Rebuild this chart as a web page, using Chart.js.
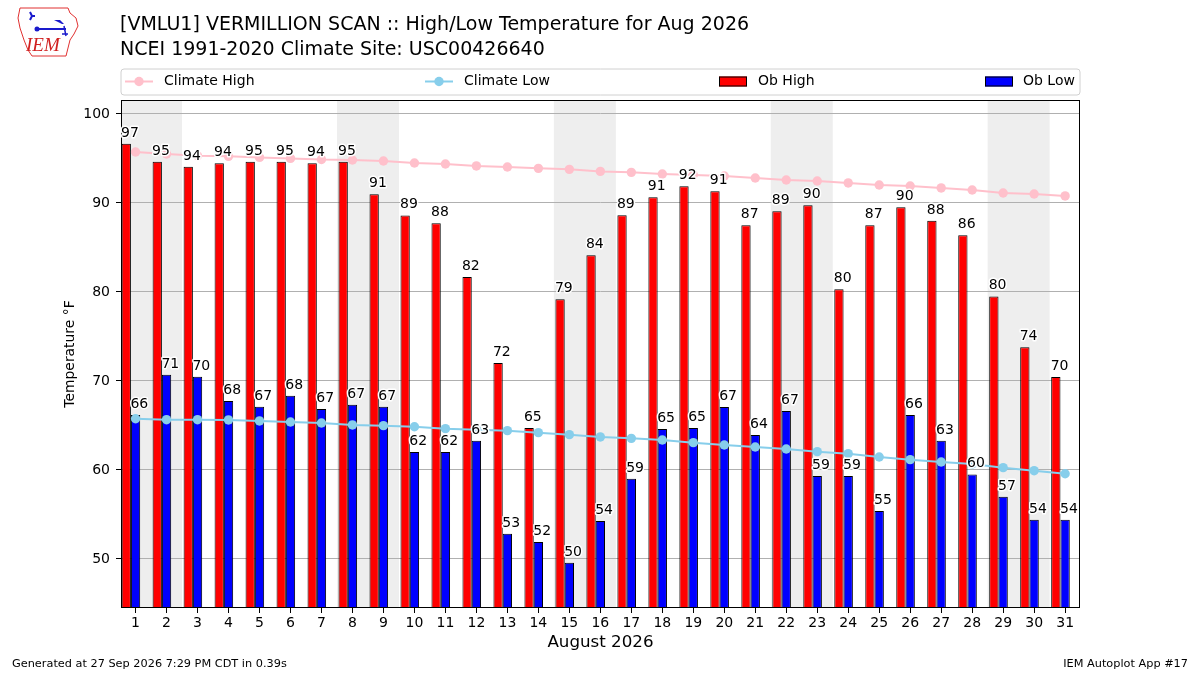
<!DOCTYPE html>
<html><head><meta charset="utf-8">
<script src="https://cdn.jsdelivr.net/npm/chart.js@4.4.0/dist/chart.umd.min.js"></script>
<style>
html,body{margin:0;padding:0;background:#fff;}
#wrap{position:relative;width:1200px;height:675px;overflow:hidden;font-family:"DejaVu Sans",sans-serif;color:#000;}
#c{position:absolute;left:0;top:0;}
#title{position:absolute;left:120px;top:11px;font-size:19px;line-height:25px;white-space:nowrap;}
#gen{position:absolute;left:12px;top:657px;font-size:11.3px;white-space:nowrap;}
#app{position:absolute;right:12px;top:657px;font-size:11.3px;white-space:nowrap;}
#logo{position:absolute;left:10px;top:4px;}
</style></head>
<body><div id="wrap">
<canvas id="c" width="1200" height="675"></canvas>
<svg id="logo" width="72" height="56" viewBox="0 0 72 56">
  <path d="M10 4 L58 4 L60 9 L66 14 L68 22 L64 30 L60 36 L58 44 L56 52 L22 52 L18 46 L14 36 L10 24 L8 14 Z" fill="none" stroke="#e03030" stroke-width="1"/>
  <path d="M20 8 L22 12 L20 16 M22 12 L25 12" stroke="#1a1acc" stroke-width="2" fill="none"/>
  <circle cx="27" cy="25" r="2.5" fill="#1a1acc"/>
  <line x1="27" y1="25" x2="56" y2="25" stroke="#1a1acc" stroke-width="2"/>
  <path d="M44 16 L52 20 L54 20 L50 16 Z" fill="#1a1acc"/>
  <path d="M54 22 L56 32 M52 30 L58 30" stroke="#1a1acc" stroke-width="1.5"/>
  <text x="16" y="47" font-family="'Liberation Serif',serif" font-style="italic" font-size="19" fill="#d02020">IEM</text>
</svg>
<div id="title">[VMLU1] VERMILLION SCAN :: High/Low Temperature for Aug 2026<br>NCEI 1991-2020 Climate Site: USC00426640</div>
<div id="gen">Generated at 27 Sep 2026 7:29 PM CDT in 0.39s</div>
<div id="app">IEM Autoplot App #17</div>
</div>
<script>
// ---- data ----
const days = [1,2,3,4,5,6,7,8,9,10,11,12,13,14,15,16,17,18,19,20,21,22,23,24,25,26,27,28,29,30,31];
const obHigh = [96.66,94.64,94.08,94.45,94.62,94.62,94.45,94.62,90.98,88.60,87.72,81.69,72.03,64.72,79.18,84.12,88.62,90.64,91.88,91.31,87.49,89.07,89.74,80.31,87.49,89.52,88.00,86.37,79.50,73.79,70.45];
const obLow = [66.18,70.71,70.48,67.75,67.11,68.35,66.85,67.34,67.11,62.02,62.02,63.29,52.84,51.91,49.58,54.27,59.02,64.60,64.72,67.08,63.93,66.63,59.33,59.33,55.39,66.18,63.29,59.50,57.00,54.40,54.40];
const climHigh = [95.73,95.51,95.31,95.24,95.12,95.01,94.88,94.83,94.72,94.49,94.38,94.16,94.04,93.89,93.78,93.55,93.44,93.26,93.15,93.03,92.81,92.58,92.47,92.25,92.02,91.91,91.69,91.46,91.12,91.01,90.79];
const climLow = [65.76,65.65,65.65,65.62,65.51,65.39,65.28,65.06,64.98,64.85,64.64,64.53,64.42,64.19,63.97,63.71,63.55,63.37,63.07,62.81,62.58,62.36,62.06,61.83,61.46,61.16,60.90,60.67,60.26,59.92,59.58];
const yTicks = [50,60,70,80,90,100];
const weekendStarts = [1,8,15,22,29];
const seriesNames = ['Climate High','Climate Low','Ob High','Ob Low'];
const xAxisTitle = 'August 2026';
const yAxisTitle = 'Temperature °F';

// ---- layout / style ----
const X_MIN = 0.53, X_MAX = 31.48, Y_MIN = 44.49, Y_MAX = 101.57;
const HIGH_SHIFT = 0.3;
const FONT = "'DejaVu Sans', sans-serif";
Chart.defaults.font.family = FONT;
Chart.defaults.font.size = 14;
Chart.defaults.color = '#000';

const pts = arr => days.map((d, i) => ({x: d, y: arr[i]}));

const bgPlugin = {
  id: 'bg',
  beforeDraw(chart) {
    const {ctx, chartArea: a, scales: {x}} = chart;
    ctx.save();
    ctx.fillStyle = '#fff';
    ctx.fillRect(0, 0, chart.width, chart.height);
    ctx.fillStyle = '#eeeeee';
    weekendStarts.forEach(d => {
      let x1 = Math.max(a.left, x.getPixelForValue(d - 0.5));
      let x2 = Math.min(a.right, x.getPixelForValue(d + 1.5));
      ctx.fillRect(x1, a.top, x2 - x1, a.bottom - a.top);
    });
    ctx.restore();
  },
  afterDatasetsDraw(chart) {
    const {ctx, chartArea: a} = chart;
    ctx.save();
    ctx.strokeStyle = '#000';
    ctx.lineWidth = 1;
    ctx.strokeRect(a.left + 0.5, a.top + 0.5, a.right - a.left - 1, a.bottom - a.top - 1);
    // bar value labels
    ctx.font = '14px ' + FONT;
    ctx.textAlign = 'left';
    ctx.textBaseline = 'alphabetic';
    ctx.lineJoin = 'round';
    [2, 3].forEach(di => {
      const meta = chart.getDatasetMeta(di);
      const vals = chart.data.datasets[di].data;
      meta.data.forEach((el, i) => {
        const txt = String(Math.round(vals[i].y));
        const tx = el.x - el.width / 2 - 0.5;
        const ty = el.y - 7;
        ctx.strokeStyle = '#fff';
        ctx.lineWidth = 3;
        ctx.strokeText(txt, tx, ty);
        ctx.fillStyle = '#000';
        ctx.fillText(txt, tx, ty);
      });
    });
    ctx.restore();
  },
  afterDraw(chart) {
    const {ctx} = chart;
    ctx.save();
    // legend box
    const bx = 121, by = 69, bw = 959, bh = 26, r = 3;
    ctx.beginPath();
    ctx.moveTo(bx + r, by);
    ctx.arcTo(bx + bw, by, bx + bw, by + bh, r);
    ctx.arcTo(bx + bw, by + bh, bx, by + bh, r);
    ctx.arcTo(bx, by + bh, bx, by, r);
    ctx.arcTo(bx, by, bx + bw, by, r);
    ctx.closePath();
    ctx.fillStyle = 'rgba(255,255,255,0.8)';
    ctx.fill();
    ctx.strokeStyle = '#d0d0d0';
    ctx.lineWidth = 1;
    ctx.stroke();
    const cy = 81.5;
    const items = [
      {h: 125, t: 164, ds: 0, kind: 'line'},
      {h: 425, t: 464, ds: 1, kind: 'line'},
      {h: 719, t: 758, ds: 2, kind: 'rect'},
      {h: 985, t: 1023, ds: 3, kind: 'rect'}
    ];
    ctx.font = '14px ' + FONT;
    ctx.textBaseline = 'middle';
    ctx.textAlign = 'left';
    items.forEach(it => {
      const ds = chart.data.datasets[it.ds];
      if (it.kind === 'line') {
        ctx.strokeStyle = ds.borderColor;
        ctx.lineWidth = 2;
        ctx.beginPath(); ctx.moveTo(it.h, cy); ctx.lineTo(it.h + 28, cy); ctx.stroke();
        ctx.fillStyle = ds.borderColor;
        ctx.beginPath(); ctx.arc(it.h + 14, cy, 4.7, 0, Math.PI * 2); ctx.fill();
      } else {
        ctx.fillStyle = ds.backgroundColor;
        ctx.fillRect(it.h, cy - 5, 28, 10);
        ctx.strokeStyle = '#000';
        ctx.lineWidth = 1;
        ctx.strokeRect(it.h + 0.5, cy - 4.5, 27, 9);
      }
      ctx.fillStyle = '#000';
      ctx.fillText(ds.label, it.t, cy);
    });
    ctx.restore();
  }
};

new Chart(document.getElementById('c'), {
  type: 'bar',
  data: {
    datasets: [
      {type: 'line', label: seriesNames[0], data: pts(climHigh), xAxisID: 'x', borderColor: '#ffc0cb', backgroundColor: '#ffc0cb',
       borderWidth: 2, pointRadius: 4.7, pointBorderWidth: 0, pointBackgroundColor: '#ffc0cb', tension: 0, order: 1},
      {type: 'line', label: seriesNames[1], data: pts(climLow), xAxisID: 'x', borderColor: '#87ceeb', backgroundColor: '#87ceeb',
       borderWidth: 2, pointRadius: 4.7, pointBorderWidth: 0, pointBackgroundColor: '#87ceeb', tension: 0, order: 1},
      {type: 'bar', label: seriesNames[2], data: pts(obHigh), xAxisID: 'xh', backgroundColor: '#ff0000', borderColor: '#000',
       borderWidth: 1, categoryPercentage: 0.3, barPercentage: 1.0, grouped: false, order: 2},
      {type: 'bar', label: seriesNames[3], data: pts(obLow), xAxisID: 'x', backgroundColor: '#0000ff', borderColor: '#000',
       borderWidth: 1, categoryPercentage: 0.3, barPercentage: 1.0, grouped: false, order: 2}
    ]
  },
  options: {
    responsive: false,
    animation: false,
    devicePixelRatio: 1,
    layout: {padding: {left: 0, right: 120, top: 100, bottom: 20}},
    plugins: {legend: {display: false}, tooltip: {enabled: false}, title: {display: false}},
    scales: {
      x: {
        type: 'linear', position: 'bottom', min: X_MIN, max: X_MAX, offset: false,
        afterFit(s) { s.height = 47; },
        afterBuildTicks(s) { s.ticks = days.map(d => ({value: d})); },
        ticks: {autoSkip: false, maxRotation: 0, padding: 2, font: {size: 14}, callback: v => String(v)},
        grid: {display: true, offset: false, drawOnChartArea: false, drawTicks: true, tickLength: 5, tickColor: '#000', color: '#000'},
        border: {display: false},
        title: {display: true, text: xAxisTitle, font: {size: 16.7}, padding: {top: 0, bottom: 2}}
      },
      xh: {
        type: 'linear', display: false, offset: false, min: X_MIN + HIGH_SHIFT, max: X_MAX + HIGH_SHIFT,
        grid: {offset: false}
      },
      y: {
        type: 'linear', position: 'left', min: Y_MIN, max: Y_MAX,
        afterFit(s) { s.width = 121; },
        afterBuildTicks(s) { s.ticks = yTicks.map(v => ({value: v})); },
        ticks: {padding: 6, font: {size: 14}},
        grid: {color: '#b0b0b0', lineWidth: 1, tickLength: 5, tickColor: '#000', drawTicks: true},
        border: {display: false},
        title: {display: true, text: yAxisTitle, font: {size: 13.9}, padding: {top: 62, bottom: 0}}
      }
    }
  },
  plugins: [bgPlugin]
});
</script>
</body></html>
